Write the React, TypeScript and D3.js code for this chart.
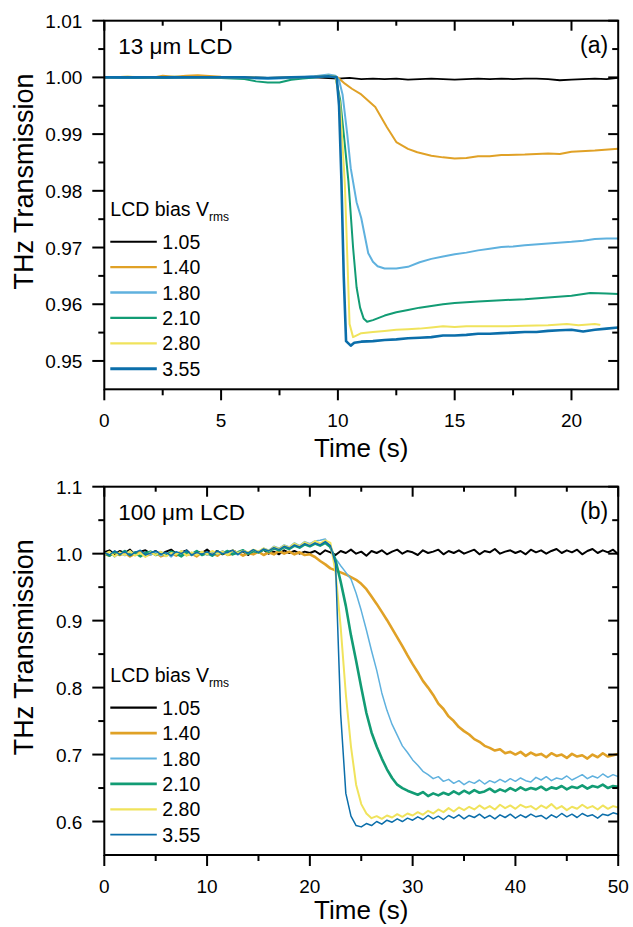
import React from "react";
import * as d3 from "d3";

const W = 633;
const H = 927;
const FONT = "'Liberation Sans', Arial, Helvetica, sans-serif";

const biasLabels = ["1.05", "1.40", "1.80", "2.10", "2.80", "3.55"];
const colors = ["#000000", "#E0A126", "#5FB1DE", "#129C74", "#F0E35C", "#0B6EAA"];
const widthsA = [1.8, 2, 2, 2, 2, 2.6];
const widthsB = [2, 2.6, 1.5, 2.6, 2, 1.5];

// panel (a), 13 um cell: [time s, transmission]
const a105: [number, number][] = [[0,1.0000],[1,1.0000],[2,0.9999],[3,1.0000],[4,1.0001],[5,1.0000],[6,1.0000],[7,0.9999],[8,1.0000],[9,1.0000],[10,0.9998],[10.5,0.9999],[11,0.9997],[11.5,0.9998],[12,0.9997],[12.5,0.9998],[13,0.9996],[13.5,0.9997],[14,0.9998],[14.5,0.9997],[15,0.9996],[15.5,0.9997],[16,0.9998],[16.5,0.9997],[17,0.9998],[17.5,0.9997],[18,0.9998],[18.5,0.9998],[19,0.9997],[19.5,0.9995],[20,0.9996],[20.5,0.9997],[21,0.9998],[21.5,0.9997],[22,0.9999]];
const a140: [number, number][] = [[0,1.0000],[1,1.0001],[2,0.9999],[2.5,1.0003],[3,1.0001],[3.5,1.0003],[4,1.0004],[5,1.0001],[6,1.0000],[7,0.9999],[8,0.9999],[9,1.0001],[9.6,1.0003],[10,1.0000],[10.3,0.9989],[10.6,0.9980],[11,0.9970],[11.6,0.9948],[12.1,0.9912],[12.5,0.9886],[13,0.9874],[13.4,0.9868],[14,0.9862],[14.5,0.9859],[15,0.9857],[15.5,0.9858],[16,0.9861],[16.5,0.9861],[17,0.9863],[18,0.9864],[19,0.9866],[19.5,0.9865],[20,0.9869],[21,0.9871],[22,0.9874]];
const a180: [number, number][] = [[0,1.0000],[1,0.9999],[2,1.0000],[3,1.0001],[4,1.0000],[5,1.0000],[6,0.9999],[7,0.9997],[8,0.9999],[9,1.0002],[9.6,1.0005],[9.9,1.0003],[10.05,0.9995],[10.2,0.9970],[10.4,0.9900],[10.55,0.9840],[10.8,0.9780],[11,0.9752],[11.3,0.9690],[11.5,0.9675],[11.7,0.9667],[12,0.9663],[12.5,0.9663],[13,0.9666],[13.5,0.9674],[14,0.9680],[14.5,0.9684],[15,0.9688],[15.5,0.9691],[16,0.9695],[16.5,0.9698],[17,0.9701],[17.5,0.9702],[18,0.9704],[19,0.9707],[20,0.9710],[20.5,0.9712],[21,0.9715],[21.5,0.9716],[22,0.9716]];
const a210: [number, number][] = [[0,1.0000],[1,1.0000],[2,0.9999],[3,1.0000],[4,1.0000],[5,0.9999],[6,0.9997],[6.5,0.9993],[7,0.9991],[7.5,0.9991],[8,0.9996],[8.5,0.9998],[9,1.0000],[9.6,1.0003],[9.9,1.0001],[10.1,0.9960],[10.3,0.9880],[10.45,0.9817],[10.65,0.9700],[10.8,0.9630],[10.95,0.9594],[11.1,0.9575],[11.25,0.9569],[11.5,0.9572],[12,0.9580],[12.5,0.9586],[13,0.9590],[13.5,0.9594],[14,0.9597],[14.5,0.9600],[15,0.9602],[16,0.9605],[17,0.9607],[18,0.9609],[19,0.9612],[20,0.9615],[20.8,0.9620],[21.5,0.9619],[22,0.9618]];
const a280: [number, number][] = [[0,1.0000],[1,1.0001],[2,1.0000],[3,1.0001],[4,1.0000],[5,1.0000],[6,1.0000],[7,0.9999],[8,1.0000],[9,1.0001],[9.6,1.0003],[9.9,1.0001],[10.1,0.9950],[10.3,0.9810],[10.5,0.9565],[10.65,0.9542],[10.85,0.9546],[11,0.9549],[11.5,0.9551],[12,0.9553],[12.5,0.9555],[13,0.9556],[13.5,0.9557],[14,0.9559],[14.5,0.9561],[15,0.9560],[15.5,0.9561],[16,0.9561],[17,0.9561],[18,0.9562],[19,0.9563],[19.8,0.9565],[20.3,0.9563],[21,0.9565],[21.2,0.9564]];
const a355: [number, number][] = [[0,1.0000],[1,1.0000],[2,1.0000],[3,1.0000],[4,1.0000],[5,1.0000],[6,1.0000],[7,0.9999],[8,1.0000],[9,1.0001],[9.6,1.0002],[9.95,1.0000],[10.05,0.9950],[10.15,0.9820],[10.25,0.9650],[10.35,0.9535],[10.55,0.9527],[10.7,0.9532],[11,0.9534],[11.5,0.9535],[12,0.9537],[12.5,0.9538],[13,0.9540],[13.5,0.9541],[14,0.9542],[14.5,0.9545],[15,0.9545],[15.5,0.9546],[16,0.9548],[16.5,0.9548],[17,0.9549],[17.5,0.9550],[18,0.9551],[18.5,0.9551],[19,0.9553],[19.5,0.9554],[20,0.9555],[20.5,0.9552],[21,0.9555],[21.5,0.9557],[22,0.9559]];

// panel (b), 100 um cell: one value every 0.5 s from 0 to 50 s
const stepB = 0.5;
const b105 = [
  1.002,1.005,0.999,1.004,1.001,1.006,0.998,1.003,1.005,1.000,
  1.004,0.999,1.003,1.006,1.000,1.002,1.005,0.998,1.003,1.001,
  1.006,1.000,1.004,0.999,1.002,1.005,1.001,1.003,0.998,1.004,
  1.002,1.006,1.000,1.003,0.999,1.005,1.001,1.004,1.000,1.003,
  1.001,1.004,0.999,1.005,1.002,0.998,1.004,1.001,1.006,1.000,
  1.003,0.997,1.004,1.001,1.005,0.999,1.003,1.006,1.000,1.004,
  1.002,0.998,1.005,1.001,1.003,1.006,0.999,1.004,1.001,1.005,
  1.000,1.003,1.006,0.999,1.004,1.002,1.007,1.000,1.003,1.005,
  1.001,1.004,0.999,1.006,1.002,1.005,1.000,1.004,1.007,1.001,
  1.005,1.002,1.006,0.999,1.004,1.007,1.001,1.005,1.002,1.006,
  0.999,
];
const b140 = [
  1.000,0.997,1.002,0.998,1.001,0.996,1.000,1.003,0.997,0.999,
  1.002,0.996,0.999,1.001,0.997,1.003,0.998,1.000,0.996,1.002,
  0.999,1.001,0.997,1.003,0.998,1.000,1.002,0.997,1.001,0.999,
  1.003,0.998,1.002,0.999,1.004,1.000,1.003,0.999,1.002,0.998,
  0.999,0.995,0.989,0.984,0.978,0.975,0.972,0.969,0.965,0.961,
  0.955,0.947,0.936,0.925,0.913,0.901,0.888,0.875,0.862,0.848,
  0.835,0.823,0.810,0.800,0.789,0.776,0.768,0.757,0.750,0.741,
  0.735,0.730,0.723,0.719,0.713,0.710,0.706,0.708,0.702,0.704,
  0.700,0.704,0.698,0.703,0.699,0.701,0.696,0.702,0.698,0.700,
  0.695,0.701,0.697,0.699,0.694,0.700,0.696,0.702,0.697,0.699,
  0.701,
];
const b180 = [
  0.998,1.003,0.995,1.001,0.997,1.004,0.999,0.996,1.002,0.998,
  1.003,0.997,1.001,0.995,1.002,0.999,1.004,0.997,1.000,1.003,
  0.998,1.002,0.999,1.004,1.000,1.003,0.998,1.005,1.001,1.006,
  1.003,1.008,1.005,1.011,1.008,1.013,1.010,1.016,1.012,1.018,
  1.015,1.019,1.020,1.022,1.008,0.993,0.982,0.972,0.962,0.941,
  0.915,0.886,0.855,0.826,0.792,0.766,0.745,0.729,0.713,0.703,
  0.692,0.684,0.675,0.670,0.664,0.667,0.660,0.663,0.657,0.661,
  0.655,0.660,0.657,0.662,0.656,0.661,0.658,0.663,0.659,0.664,
  0.660,0.665,0.661,0.659,0.666,0.662,0.667,0.661,0.665,0.663,
  0.668,0.662,0.666,0.670,0.664,0.668,0.665,0.671,0.666,0.670,
  0.667,
];
const b210 = [
  1.001,0.997,1.003,0.999,1.004,0.998,1.002,0.996,1.001,1.003,
  0.998,1.002,0.997,1.003,1.000,0.996,1.002,0.999,1.004,0.998,
  1.001,0.997,1.003,1.000,1.004,0.999,1.002,1.005,1.000,1.004,
  1.002,1.006,1.003,1.008,1.005,1.010,1.007,1.012,1.009,1.014,
  1.011,1.015,1.012,1.016,1.010,0.990,0.958,0.922,0.878,0.840,
  0.800,0.762,0.733,0.712,0.694,0.678,0.665,0.655,0.650,0.646,
  0.643,0.640,0.644,0.638,0.642,0.639,0.643,0.640,0.645,0.641,
  0.646,0.642,0.647,0.643,0.645,0.649,0.644,0.648,0.645,0.650,
  0.646,0.651,0.647,0.650,0.648,0.652,0.647,0.651,0.649,0.653,
  0.648,0.652,0.650,0.654,0.649,0.653,0.651,0.655,0.650,0.653,
  0.652,
];
const b280 = [
  0.999,1.003,0.996,1.002,0.998,1.004,0.997,1.001,0.995,1.002,
  0.998,1.003,0.996,1.001,0.999,1.004,0.997,1.002,0.998,1.003,
  0.999,1.004,1.000,1.003,0.998,1.005,1.001,1.004,1.002,1.006,
  1.003,1.008,1.004,1.010,1.007,1.012,1.009,1.015,1.011,1.017,
  1.013,1.019,1.015,1.020,1.016,0.972,0.890,0.790,0.712,0.655,
  0.626,0.612,0.605,0.608,0.604,0.609,0.606,0.611,0.607,0.612,
  0.609,0.614,0.610,0.616,0.612,0.618,0.614,0.620,0.615,0.621,
  0.617,0.622,0.618,0.624,0.619,0.623,0.618,0.625,0.620,0.624,
  0.619,0.625,0.621,0.623,0.618,0.624,0.620,0.626,0.619,0.623,
  0.617,0.622,0.619,0.625,0.620,0.623,0.618,0.624,0.619,0.623,
  0.621,
];
const b355 = [
  1.002,0.998,1.004,0.999,1.003,0.997,1.002,1.005,0.998,1.001,
  1.004,0.999,1.002,0.997,1.003,1.000,1.005,0.998,1.002,0.999,
  1.003,0.998,1.004,1.000,1.002,1.005,0.999,1.004,1.001,1.006,
  1.002,1.007,1.004,1.009,1.006,1.011,1.008,1.013,1.010,1.015,
  1.012,1.016,1.013,1.018,1.012,0.985,0.760,0.642,0.608,0.594,
  0.592,0.597,0.594,0.600,0.596,0.602,0.599,0.604,0.600,0.605,
  0.602,0.607,0.603,0.609,0.604,0.608,0.603,0.609,0.605,0.610,
  0.604,0.609,0.606,0.611,0.605,0.609,0.604,0.610,0.606,0.611,
  0.605,0.610,0.606,0.611,0.607,0.609,0.604,0.610,0.606,0.612,
  0.607,0.611,0.606,0.612,0.608,0.610,0.605,0.611,0.609,0.613,
  0.611,
];

const xTicksA = [0, 5, 10, 15, 20];
const xMinorA = [2.5, 7.5, 12.5, 17.5];
const yTicksA = [0.95, 0.96, 0.97, 0.98, 0.99, 1.0, 1.01];
const yMinorA = [0.955, 0.965, 0.975, 0.985, 0.995, 1.005];
const xTicksB = [0, 10, 20, 30, 40, 50];
const xMinorB = [5, 15, 25, 35, 45];
const yTicksB = [0.6, 0.7, 0.8, 0.9, 1.0, 1.1];
const yMinorB = [0.65, 0.75, 0.85, 0.95, 1.05];

type Pt = [number, number];

interface PanelProps {
  id: string;
  top: number;
  bottom: number;
  xMax: number;
  yDomain: [number, number];
  xTicks: number[];
  xMinor: number[];
  yTicks: number[];
  yMinor: number[];
  yFmt: (v: number) => string;
  series: Pt[][];
  widths: number[];
  name: string;
  tag: string;
  titleGap: number;
}

const LEFT = 104.3;
const RIGHT = 618.2;

function Panel(p: PanelProps) {
  const x = d3.scaleLinear().domain([0, p.xMax]).range([LEFT, RIGHT]);
  const y = d3.scaleLinear().domain(p.yDomain).range([p.bottom, p.top]);
  const line = d3.line<Pt>().x(d => x(d[0])).y(d => y(d[1]));
  const cy = (p.top + p.bottom) / 2;
  const legTop = p.top + 195;
  const axisW = 2;

  return (
    <g>
      <defs>
        <clipPath id={p.id}>
          <rect x={LEFT} y={p.top} width={RIGHT - LEFT} height={p.bottom - p.top} />
        </clipPath>
      </defs>
      <g clipPath={`url(#${p.id})`} fill="none" strokeLinejoin="round" strokeLinecap="round">
        {p.series.map((s, i) => (
          <path key={i} d={line(s) || ""} stroke={colors[i]} strokeWidth={p.widths[i]} />
        ))}
      </g>

      {/* frame */}
      <rect x={LEFT} y={p.top} width={RIGHT - LEFT} height={p.bottom - p.top}
        fill="none" stroke="#000" strokeWidth={axisW} />

      {/* ticks: out on left/bottom, in on top/right */}
      <g stroke="#000" strokeWidth={axisW}>
        {p.xTicks.map(t => (
          <g key={"xt" + t}>
            <line x1={x(t)} x2={x(t)} y1={p.bottom} y2={p.bottom + 11} />
            <line x1={x(t)} x2={x(t)} y1={p.top} y2={p.top + 10} />
          </g>
        ))}
        {p.xMinor.map(t => (
          <g key={"xm" + t}>
            <line x1={x(t)} x2={x(t)} y1={p.bottom} y2={p.bottom + 6} />
            <line x1={x(t)} x2={x(t)} y1={p.top} y2={p.top + 5} />
          </g>
        ))}
        {p.yTicks.map(t => (
          <g key={"yt" + t}>
            <line x1={LEFT - 12} x2={LEFT} y1={y(t)} y2={y(t)} />
            <line x1={RIGHT - 10} x2={RIGHT} y1={y(t)} y2={y(t)} />
          </g>
        ))}
        {p.yMinor.map(t => (
          <g key={"ym" + t}>
            <line x1={LEFT - 6} x2={LEFT} y1={y(t)} y2={y(t)} />
            <line x1={RIGHT - 6} x2={RIGHT} y1={y(t)} y2={y(t)} />
          </g>
        ))}
      </g>

      <g fontFamily={FONT} fill="#000">
        {p.xTicks.map(t => (
          <text key={"xl" + t} x={x(t)} y={p.bottom + 38} fontSize={19} textAnchor="middle">{t}</text>
        ))}
        {p.yTicks.map(t => (
          <text key={"yl" + t} x={LEFT - 22} y={y(t) + 7} fontSize={19} textAnchor="end">{p.yFmt(t)}</text>
        ))}
        <text x={(LEFT + RIGHT) / 2} y={p.bottom + p.titleGap} fontSize={26} textAnchor="middle">Time (s)</text>
        <text transform={`translate(33,${cy - 23.5}) rotate(-90)`} fontSize={27} textAnchor="middle">THz Transmission</text>
        <text x={LEFT + 14} y={p.top + 33.3} fontSize={22.5}>{p.name}</text>
        <text x={RIGHT - 10} y={p.top + 32.5} fontSize={23} textAnchor="end">{p.tag}</text>

        {/* legend */}
        <text x={LEFT + 6} y={legTop} fontSize={19.5}>
          LCD bias V<tspan fontSize={12} dy={5}>rms</tspan>
        </text>
        {biasLabels.map((lab, i) => {
          const ly = p.top + 221 + i * 25.4;
          return (
            <g key={lab}>
              <line x1={LEFT + 6} x2={LEFT + 52.5} y1={ly} y2={ly} stroke={colors[i]} strokeWidth={p.widths[i] + 0.3} />
              <text x={LEFT + 58} y={ly + 7} fontSize={19.5}>{lab}</text>
            </g>
          );
        })}
      </g>
    </g>
  );
}

const toPts = (vals: number[]): Pt[] => vals.map((v, i) => [i * stepB, v]);

export default function App() {
  const seriesA = [a105, a140, a180, a210, a280, a355];
  const seriesB = [b105, b140, b180, b210, b280, b355].map(toPts);
  const f2 = d3.format(".2f");
  const f1 = d3.format(".1f");
  return (
    <svg width={W} height={H} viewBox={`0 0 ${W} ${H}`}
      style={{ position: "absolute", left: 0, top: 0, background: "#fff" }}>
      <rect width={W} height={H} fill="#fff" />
      <Panel id="clipA" top={20.7} bottom={389.3} xMax={22} yDomain={[0.945, 1.01]}
        xTicks={xTicksA} xMinor={xMinorA} yTicks={yTicksA} yMinor={yMinorA} yFmt={f2}
        series={seriesA} widths={widthsA} name="13 μm LCD" tag="(a)" titleGap={68} />
      <Panel id="clipB" top={486.7} bottom={855} xMax={50} yDomain={[0.55, 1.1]}
        xTicks={xTicksB} xMinor={xMinorB} yTicks={yTicksB} yMinor={yMinorB} yFmt={f1}
        series={seriesB} widths={widthsB} name="100 μm LCD" tag="(b)" titleGap={64} />
    </svg>
  );
}
